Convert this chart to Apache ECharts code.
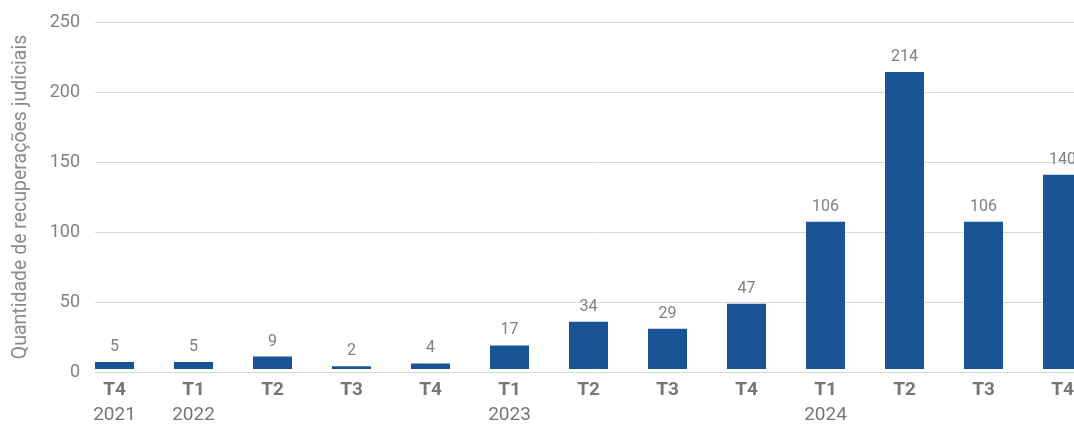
<!DOCTYPE html>
<html>
<head>
<meta charset="utf-8">
<script src="https://cdn.jsdelivr.net/npm/echarts@6/dist/echarts.min.js"></script>
<style>
  html, body { margin: 0; padding: 0; background: #fff; overflow: hidden; }
  #main { width: 1102px; height: 425px; }
</style>
</head>
<body>
<div id="main"></div>
<script>
const quarters = ["T4", "T1", "T2", "T3", "T4", "T1", "T2", "T3", "T4", "T1", "T2", "T3", "T4"];
const years = ["2021", "2022", "", "", "", "2023", "", "", "", "2024", "", "", ""];
const recuperacoes = [5, 5, 9, 2, 4, 17, 34, 29, 47, 106, 214, 106, 140];
const yTicks = [0, 50, 100, 150, 200, 250];

const labels = quarters.map((q, i) => q + "|" + years[i]);
// the chart is wider than the window: the last bar is cut at the right edge
const myChart = echarts.init(document.getElementById("main"));

let option = {
  textStyle: { fontFamily: "Roboto" },
  animation: false,
  grid: [
    // bars
    { left: 75, top: 22, bottom: 53, right: 0 },
    // gridlines + y labels
    { left: 95, top: 22, bottom: 53, right: 0 }
  ],
  xAxis: [
    {
      type: "category",
      gridIndex: 0,
      data: labels,
      axisLine: { show: false },
      axisTick: { show: false },
      axisLabel: {
        margin: 10,
        interval: 0,
        formatter: function (v) {
          const p = v.split("|");
          return p[1] ? "{q|" + p[0] + "}\n{y|" + p[1] + "}" : "{q|" + p[0] + "}";
        },
        rich: {
          q: { fontSize: 19, fontWeight: "bold", color: "#767676", lineHeight: 22 },
          y: { fontSize: 19, color: "#767676", lineHeight: 29 }
        },
        verticalAlign: "top"
      }
    },
    { type: "value", gridIndex: 1, show: false, min: 0, max: 1 }
  ],
  yAxis: [
    {
      type: "value",
      gridIndex: 0,
      min: 0,
      max: 250,
      interval: 50,
      show: false,
      splitLine: { show: false }
    },
    {
      type: "value",
      gridIndex: 1,
      min: yTicks[0],
      max: yTicks[yTicks.length - 1],
      interval: 50,
      name: "Quantidade de recuperações judiciais",
      nameLocation: "middle",
      nameGap: 64,
      nameTextStyle: { fontSize: 19.5, color: "#8a8a8a" },
      axisLine: { show: false },
      axisTick: { show: false },
      axisLabel: { fontSize: 18, color: "#828282", margin: 15 },
      splitLine: { lineStyle: { color: "#d9d9d9", width: 1 } }
    }
  ],
  series: [
    {
      type: "bar",
      xAxisIndex: 0,
      yAxisIndex: 0,
      data: recuperacoes,
      barWidth: 39,
      itemStyle: { color: "#1a5496" },
      label: {
        show: true,
        position: "top",
        distance: 7,
        fontSize: 16,
        color: "#808080"
      }
    }
  ]
};
myChart.setOption(option);
</script>
</body>
</html>
